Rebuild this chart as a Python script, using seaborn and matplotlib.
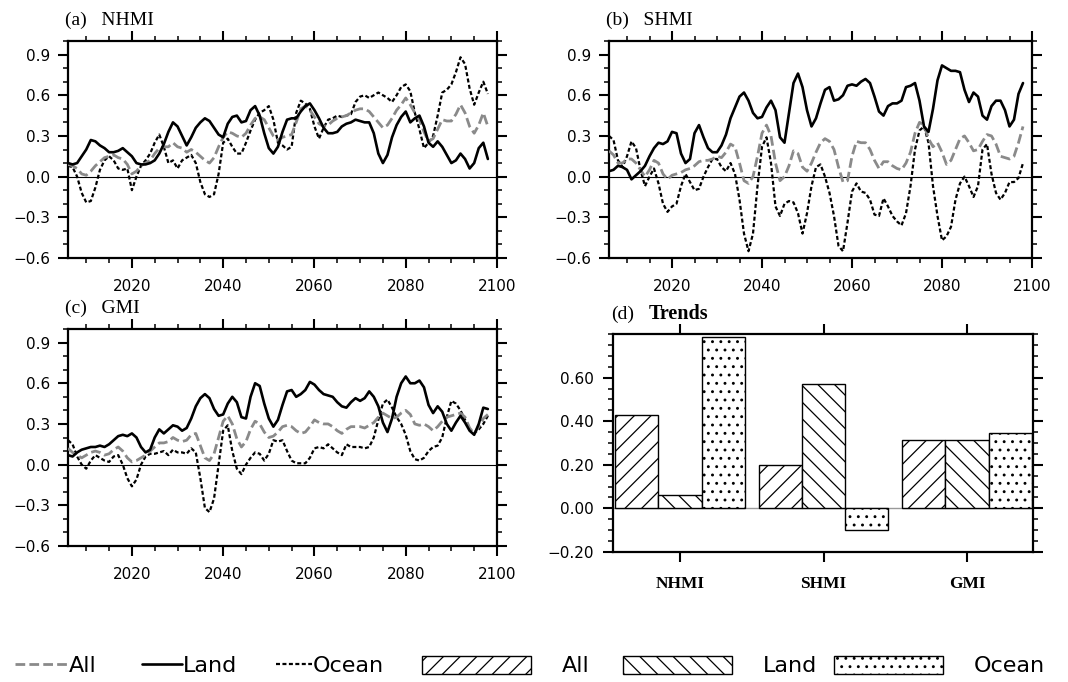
import numpy as np
import pandas as pd
import matplotlib
matplotlib.use("Agg")
import matplotlib.pyplot as plt
import seaborn as sns
from matplotlib.ticker import MultipleLocator, FixedLocator, FuncFormatter
from matplotlib.lines import Line2D
from matplotlib.patches import Patch

years = list(range(2006, 2099))

nhmi_land = [0.10, 0.09, 0.10, 0.15, 0.20, 0.27, 0.26, 0.23, 0.21, 0.18,
             0.18, 0.19, 0.21, 0.18, 0.15, 0.10, 0.09, 0.09, 0.10, 0.12,
             0.17, 0.24, 0.33, 0.40, 0.37, 0.30, 0.23, 0.29, 0.36, 0.40,
             0.43, 0.41, 0.36, 0.31, 0.29, 0.39, 0.44, 0.45, 0.40, 0.41,
             0.49, 0.52, 0.45, 0.32, 0.21, 0.17, 0.22, 0.33, 0.42, 0.43,
             0.43, 0.48, 0.52, 0.54, 0.49, 0.43, 0.36, 0.32, 0.32, 0.33,
             0.37, 0.39, 0.40, 0.42, 0.41, 0.40, 0.40, 0.32, 0.17, 0.10,
             0.16, 0.29, 0.38, 0.44, 0.48, 0.40, 0.43, 0.45, 0.37, 0.25,
             0.22, 0.26, 0.22, 0.16, 0.10, 0.12, 0.17, 0.13, 0.06, 0.10,
             0.21, 0.25, 0.13]
nhmi_all = [0.09, 0.08, 0.06, 0.02, 0.01, 0.04, 0.08, 0.11, 0.14, 0.15,
            0.16, 0.14, 0.13, 0.09, 0.02, 0.04, 0.08, 0.10, 0.12, 0.17,
            0.21, 0.22, 0.22, 0.25, 0.22, 0.21, 0.18, 0.20, 0.18, 0.15,
            0.12, 0.10, 0.14, 0.22, 0.29, 0.33, 0.32, 0.30, 0.29, 0.32,
            0.38, 0.43, 0.44, 0.42, 0.36, 0.30, 0.27, 0.29, 0.30, 0.31,
            0.40, 0.50, 0.52, 0.49, 0.44, 0.39, 0.37, 0.38, 0.41, 0.43,
            0.44, 0.45, 0.47, 0.49, 0.50, 0.50, 0.48, 0.44, 0.40, 0.36,
            0.38, 0.43, 0.49, 0.53, 0.58, 0.53, 0.47, 0.42, 0.33, 0.26,
            0.28, 0.35, 0.42, 0.41, 0.41, 0.46, 0.53, 0.47, 0.37, 0.32,
            0.38, 0.47, 0.37]
nhmi_ocean = [0.08, 0.07, 0.00, -0.12, -0.19, -0.18, -0.08, 0.05, 0.12, 0.15,
              0.12, 0.06, 0.05, 0.06, -0.10, 0.00, 0.08, 0.12, 0.17, 0.25,
              0.31, 0.22, 0.10, 0.12, 0.06, 0.12, 0.14, 0.16, 0.10, -0.04,
              -0.13, -0.15, -0.13, 0.02, 0.25, 0.28, 0.22, 0.17, 0.17, 0.25,
              0.34, 0.42, 0.47, 0.49, 0.52, 0.42, 0.25, 0.23, 0.20, 0.22,
              0.47, 0.56, 0.54, 0.50, 0.37, 0.28, 0.36, 0.42, 0.43, 0.45,
              0.44, 0.45, 0.46, 0.55, 0.59, 0.60, 0.58, 0.60, 0.62, 0.60,
              0.58, 0.55, 0.60, 0.66, 0.68, 0.63, 0.47, 0.35, 0.21, 0.25,
              0.30, 0.45, 0.62, 0.64, 0.68, 0.77, 0.88, 0.83, 0.65, 0.53,
              0.62, 0.70, 0.61]

shmi_land = [0.04, 0.05, 0.08, 0.07, 0.05, -0.02, 0.01, 0.04, 0.08, 0.15,
             0.21, 0.25, 0.24, 0.26, 0.33, 0.32, 0.17, 0.10, 0.13, 0.32,
             0.38, 0.29, 0.21, 0.18, 0.18, 0.23, 0.31, 0.43, 0.51, 0.59,
             0.62, 0.56, 0.47, 0.43, 0.44, 0.51, 0.56, 0.49, 0.29, 0.25,
             0.47, 0.69, 0.76, 0.66, 0.49, 0.37, 0.43, 0.54, 0.64, 0.66,
             0.56, 0.57, 0.60, 0.67, 0.68, 0.67, 0.70, 0.72, 0.69, 0.59,
             0.48, 0.45, 0.52, 0.54, 0.54, 0.56, 0.66, 0.67, 0.69, 0.56,
             0.37, 0.33, 0.50, 0.71, 0.82, 0.80, 0.78, 0.78, 0.77, 0.64,
             0.55, 0.62, 0.59, 0.45, 0.42, 0.52, 0.56, 0.56, 0.49, 0.37,
             0.42, 0.61, 0.69]
shmi_all = [0.19, 0.16, 0.10, 0.10, 0.13, 0.13, 0.10, 0.05, 0.00, 0.05,
            0.12, 0.10, 0.02, -0.02, 0.01, 0.02, 0.03, 0.05, 0.06, 0.08,
            0.11, 0.12, 0.12, 0.13, 0.15, 0.14, 0.18, 0.24, 0.22, 0.10,
            -0.03, -0.05, 0.00, 0.15, 0.32, 0.38, 0.30, 0.10, -0.03, 0.00,
            0.08, 0.19, 0.17, 0.07, 0.04, 0.10, 0.18, 0.25, 0.28, 0.26,
            0.20, 0.07, -0.04, -0.03, 0.15, 0.26, 0.25, 0.25, 0.20, 0.12,
            0.06, 0.11, 0.11, 0.08, 0.06, 0.05, 0.10, 0.18, 0.32, 0.40,
            0.38, 0.28, 0.22, 0.25, 0.18, 0.09, 0.12, 0.20, 0.28, 0.30,
            0.25, 0.19, 0.20, 0.26, 0.31, 0.30, 0.24, 0.15, 0.14, 0.13,
            0.15, 0.25, 0.37]
shmi_ocean = [0.30, 0.27, 0.12, 0.07, 0.15, 0.26, 0.21, 0.05, -0.07, 0.00,
              0.06, -0.05, -0.20, -0.26, -0.22, -0.20, -0.07, 0.02, -0.04, -0.10,
              -0.09, 0.00, 0.07, 0.13, 0.13, 0.07, 0.04, 0.10, 0.02, -0.17,
              -0.42, -0.55, -0.42, -0.07, 0.22, 0.29, 0.10, -0.22, -0.29, -0.20,
              -0.18, -0.19, -0.27, -0.42, -0.27, -0.07, 0.07, 0.09, 0.00, -0.12,
              -0.29, -0.51, -0.55, -0.34, -0.11, -0.05, -0.11, -0.12, -0.17, -0.28,
              -0.29, -0.16, -0.22, -0.29, -0.33, -0.36, -0.27, -0.07, 0.20, 0.34,
              0.37, 0.25, -0.07, -0.29, -0.47, -0.44, -0.37, -0.17, -0.05, 0.00,
              -0.07, -0.15, -0.07, 0.20, 0.24, 0.02, -0.12, -0.17, -0.12, -0.04,
              -0.04, -0.01, 0.10]

gmi_land = [0.07, 0.06, 0.09, 0.11, 0.12, 0.13, 0.13, 0.14, 0.13, 0.15,
            0.18, 0.21, 0.22, 0.21, 0.23, 0.20, 0.13, 0.09, 0.11, 0.20,
            0.26, 0.23, 0.26, 0.29, 0.28, 0.25, 0.27, 0.34, 0.43, 0.49,
            0.52, 0.49, 0.41, 0.36, 0.37, 0.45, 0.50, 0.46, 0.35, 0.34,
            0.50, 0.60, 0.58, 0.45, 0.34, 0.28, 0.33, 0.44, 0.54, 0.55,
            0.50, 0.52, 0.55, 0.61, 0.59, 0.55, 0.52, 0.51, 0.50, 0.46,
            0.43, 0.42, 0.46, 0.49, 0.47, 0.49, 0.54, 0.50, 0.43, 0.31,
            0.24, 0.34, 0.50, 0.60, 0.65, 0.60, 0.60, 0.62, 0.57, 0.44,
            0.38, 0.43, 0.39, 0.30, 0.25, 0.31, 0.36, 0.31, 0.25, 0.22,
            0.30, 0.42, 0.41]
gmi_all = [0.12, 0.09, 0.07, 0.05, 0.07, 0.09, 0.10, 0.09, 0.07, 0.08,
           0.11, 0.13, 0.10, 0.05, 0.02, 0.03, 0.05, 0.07, 0.10, 0.13,
           0.16, 0.16, 0.17, 0.20, 0.18, 0.17, 0.18, 0.22, 0.23, 0.14,
           0.05, 0.03, 0.08, 0.20, 0.32, 0.36, 0.30, 0.19, 0.13, 0.17,
           0.26, 0.32, 0.30, 0.24, 0.20, 0.21, 0.24, 0.28, 0.29, 0.28,
           0.25, 0.23, 0.24, 0.28, 0.33, 0.31, 0.30, 0.30, 0.28, 0.25,
           0.23, 0.26, 0.28, 0.28, 0.28, 0.27, 0.29, 0.31, 0.35, 0.38,
           0.36, 0.34, 0.35, 0.38, 0.40, 0.37, 0.30, 0.29, 0.30, 0.28,
           0.25, 0.28, 0.32, 0.35, 0.36, 0.37, 0.38, 0.35, 0.27, 0.23,
           0.28, 0.34, 0.37]
gmi_ocean = [0.18, 0.15, 0.06, 0.00, -0.03, 0.03, 0.07, 0.05, 0.03, 0.02,
             0.06, 0.07, 0.00, -0.10, -0.16, -0.11, 0.00, 0.06, 0.08, 0.08,
             0.09, 0.10, 0.07, 0.11, 0.09, 0.09, 0.08, 0.12, 0.09, -0.10,
             -0.32, -0.35, -0.25, 0.00, 0.25, 0.29, 0.10, -0.03, -0.07, 0.00,
             0.05, 0.09, 0.08, 0.03, 0.08, 0.18, 0.17, 0.18, 0.10, 0.03,
             0.01, 0.01, 0.01, 0.05, 0.12, 0.13, 0.12, 0.15, 0.12, 0.09,
             0.07, 0.15, 0.13, 0.13, 0.13, 0.12, 0.13, 0.20, 0.33, 0.45,
             0.48, 0.42, 0.35, 0.30, 0.22, 0.10, 0.04, 0.03, 0.05, 0.10,
             0.13, 0.14, 0.20, 0.35, 0.47, 0.45, 0.40, 0.33, 0.26, 0.23,
             0.26, 0.30, 0.36]

categories = ["NHMI", "SHMI", "GMI"]
types = ["All", "Land", "Ocean"]
trend_all = [0.43, 0.20, 0.315]
trend_land = [0.06, 0.57, 0.315]
trend_ocean = [0.785, -0.10, 0.345]

panel_titles = ["(a)   NHMI", "(b)   SHMI", "(c)   GMI"]

# ---------------------------------------------------------------
sns.set_style("ticks")
plt.rcParams["font.family"] = ["DejaVu Sans"]
plt.rcParams["hatch.linewidth"] = 0.9
plt.rcParams["axes.unicode_minus"] = True
plt.rcParams["text.color"] = "black"
plt.rcParams["xtick.color"] = "black"
plt.rcParams["ytick.color"] = "black"
plt.rcParams["axes.labelcolor"] = "black"

GRAY = "#8a8a8a"
SERIF = "Liberation Serif"


def minus_fmt(fmt):
    def f(v, pos):
        s = fmt.format(v)
        if float(s) == 0:
            s = fmt.format(0.0)
        return s.replace("-", "\u2212")
    return FuncFormatter(f)


def style_axes(ax):
    for sp in ax.spines.values():
        sp.set_linewidth(1.6)
        sp.set_color("black")
    ax.tick_params(which="major", direction="out", length=7, width=1.5,
                   top=True, right=True, labelsize=11, colors="black")
    ax.tick_params(which="minor", direction="out", length=3.5, width=1.1,
                   top=True, right=True)
    ax.tick_params(axis="x", which="major", pad=8)
    ax.tick_params(axis="y", which="major", pad=6)


fig = plt.figure(figsize=(10.68, 6.82), dpi=100)
W, H = 1068.0, 682.0


def rect(l, r, t, b):
    return [l / W, 1 - b / H, (r - l) / W, (b - t) / H]


ax_a = fig.add_axes(rect(68, 497, 41, 258))
ax_b = fig.add_axes(rect(609, 1032, 41, 258))
ax_c = fig.add_axes(rect(68, 497, 329, 546))
ax_d = fig.add_axes(rect(613, 1033, 334, 552))

series = [(ax_a, nhmi_all, nhmi_land, nhmi_ocean),
          (ax_b, shmi_all, shmi_land, shmi_ocean),
          (ax_c, gmi_all, gmi_land, gmi_ocean)]

for (ax, a_v, l_v, o_v), title in zip(series, panel_titles):
    ax.axhline(0, color="black", lw=0.8, zorder=1)
    sns.lineplot(x=years, y=o_v, ax=ax, color="black", lw=1.6,
                 linestyle=(0, (1.8, 1.1)), errorbar=None, zorder=2)
    sns.lineplot(x=years, y=a_v, ax=ax, color=GRAY, lw=2.0,
                 linestyle=(0, (3.5, 1.5)), errorbar=None, zorder=3)
    sns.lineplot(x=years, y=l_v, ax=ax, color="black", lw=1.9,
                 linestyle="-", errorbar=None, zorder=4)
    ax.set_xlim(2006, 2100)
    ax.set_ylim(-0.6, 1.0)
    ax.xaxis.set_major_locator(FixedLocator([2020, 2040, 2060, 2080, 2100]))
    ax.xaxis.set_minor_locator(MultipleLocator(5))
    ax.yaxis.set_major_locator(FixedLocator([-0.6, -0.3, 0.0, 0.3, 0.6, 0.9]))
    ax.yaxis.set_minor_locator(MultipleLocator(0.1))
    ax.yaxis.set_major_formatter(minus_fmt("{:.1f}"))
    ax.set_xlabel("")
    ax.set_ylabel("")
    style_axes(ax)
    ax.text(-0.007, 1.0 + 16 / 217, title, transform=ax.transAxes,
            fontsize=14, family=SERIF, va="baseline", ha="left", color="black")

# ---- (d) Trends bar chart ----
trend_df = pd.DataFrame({
    "index": [c for c in categories for _ in types],
    "type": types * len(categories),
    "trend": [v for trio in zip(trend_all, trend_land, trend_ocean) for v in trio],
})
ax_d.axhline(0, color="#999999", lw=1.0, zorder=0.5)
sns.barplot(data=trend_df, x="index", y="trend", hue="type", order=categories,
            hue_order=types, palette={t: "white" for t in types},
            edgecolor="black", linewidth=1.0, width=0.9, saturation=1,
            ax=ax_d, legend=False, errorbar=None, zorder=2)
hatches = ["//", "\\\\", ".."]
for cont, h in zip(ax_d.containers, hatches):
    for p in cont:
        p.set_hatch(h)
        p.set_edgecolor("black")
ax_d.set_xlim(-0.467, 2.46)
ax_d.set_ylim(-0.2, 0.8)
ax_d.yaxis.set_major_locator(FixedLocator([-0.2, 0.0, 0.2, 0.4, 0.6]))
ax_d.yaxis.set_minor_locator(MultipleLocator(0.05))
ax_d.yaxis.set_major_formatter(minus_fmt("{:.2f}"))
ax_d.set_xticks(range(len(categories)))
ax_d.set_xticklabels(categories)
ax_d.set_xlabel("")
ax_d.set_ylabel("")
style_axes(ax_d)
ax_d.tick_params(axis="x", which="major", pad=10)
ax_d.tick_params(axis="y", which="major", pad=7)
for lab in ax_d.get_xticklabels():
    lab.set_family(SERIF)
    lab.set_fontweight("bold")
    lab.set_fontsize(12.5)
    lab.set_color("black")
ax_d.text(-0.005, 1.0 + 15 / 218, "(d)", transform=ax_d.transAxes,
          fontsize=14, family=SERIF, va="baseline", ha="left", color="black")
ax_d.text(36 / 420, 1.0 + 15 / 218, "Trends", transform=ax_d.transAxes,
          fontsize=14.5, family=SERIF, fontweight="bold", va="baseline",
          ha="left", color="black")

# ---- legend entries (one per item, placed like the reference) ----
FS = 16
leg_prop = {"family": "DejaVu Sans", "size": FS}
em = FS * 100 / 72.0
legend_items = [
    (Line2D([], [], color=GRAY, lw=2.0, linestyle=(0, (3.5, 1.5))), types[0], 15, 53, 1),
    (Line2D([], [], color="black", lw=1.9, linestyle="-"), types[1], 142, 40, 1),
    (Line2D([], [], color="black", lw=1.6, linestyle=(0, (1.8, 1.1))), types[2], 276, 36, 1),
    (Patch(facecolor="white", edgecolor="black", hatch=hatches[0], lw=1.0), types[0], 422, 109, 31),
    (Patch(facecolor="white", edgecolor="black", hatch=hatches[1], lw=1.0), types[1], 623, 109, 31),
    (Patch(facecolor="white", edgecolor="black", hatch=hatches[2], lw=1.0), types[2], 834, 109, 31),
]
for handle, label, x0, hlen, gap in legend_items:
    leg = fig.legend([handle], [label], loc="center left",
                     bbox_to_anchor=(x0 / W, 1 - 666 / H), frameon=False,
                     prop=leg_prop, handlelength=hlen / em, handleheight=0.9,
                     handletextpad=gap / em, borderpad=0, borderaxespad=0)
    for t in leg.get_texts():
        t.set_color("black")

fig.savefig("out.png", dpi=100)
